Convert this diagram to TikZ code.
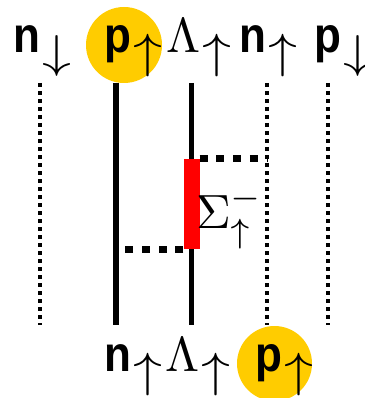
\documentclass[tikz,border=0pt]{standalone}
\usepackage{graphicx}
\usepackage{fontspec}
\usepackage{tikz}
\newfontfamily\nucfont[FakeStretch=0.88]{Liberation Sans}
\definecolor{gold}{RGB}{255,204,0}
\newcommand{\nuc}[1]{{\nucfont\bfseries #1}}
\newcommand{\spinup}{\kern2pt\raisebox{-15pt}{\fontsize{10}{12}\selectfont\scalebox{5.8}[4.8]{$\uparrow$}}}
\newcommand{\spindn}{\kern2pt\raisebox{-15pt}{\fontsize{10}{12}\selectfont\scalebox{5.8}[4.6]{$\downarrow$}}}
\newcommand{\lam}{{\fontsize{10}{12}\selectfont\scalebox{4.9}{$\Lambda$}}}
\tikzstyle{quark}=[draw,line width=5.5pt]
\tikzstyle{spectator}=[draw,line width=4pt,dash pattern=on 4pt off 4pt]
\tikzstyle{exchange}=[draw,line width=7pt,dash pattern=on 8pt off 8.7pt]
\tikzstyle{blob}=[circle,fill=gold,inner sep=0pt]
\tikzstyle{particle}=[anchor=base west,inner sep=0pt,font=\fontsize{50}{56}\selectfont]

\begin{document}
\begin{tikzpicture}[x=1pt, y=-1pt]

    \useasboundingbox (0,0) rectangle (364,398);

    % highlighted protons
    \node[blob, minimum size=76pt] (ptop) at (124,45) {};
    \node[blob, minimum size=75pt] (pbot) at (274.5,363.5) {};

    % line ends
    \foreach \x/\name in {40/nd, 116/pu, 191.5/lu, 267/nu, 328/pd}
    {
        \coordinate (t\name) at (\x,83);
        \coordinate (b\name) at (\x,325);
    }

    \foreach \name in {nd, nu, pd}
        \path[spectator] (t\name) -- (b\name);
    \foreach \name in {pu, lu}
        \path[quark] (t\name) -- (b\name);

    % Sigma in the middle
    \node[fill=red, minimum width=16pt, minimum height=90pt, inner sep=0pt] (sig) at (191.5,204) {};
    \path[exchange] (sig.north east) -- (sig.north east -| tnu);
    \path[exchange] (sig.south west) -- (sig.south west -| tpu);
    \node[anchor=base west, inner sep=0pt] (siglabel) at (196,228) {\scalebox{4.8}{$\Sigma^-_\uparrow$}};

    % initial state
    \node[particle] (n1) at (13,53) {\nuc{n}\spindn};
    \node[particle] (p1) at (104,53) {\nuc{p}\spinup};
    \node[particle] (l1) at (166,53) {\lam\spinup};
    \node[particle] (n2) at (239,53) {\nuc{n}\spinup};
    \node[particle] (p2) at (314,53) {\nuc{p}\spindn};

    % final state
    \node[particle] (n3) at (104,371) {\nuc{n}\spinup};
    \node[particle] (l2) at (165,371) {\lam\spinup};
    \node[particle] (p3) at (255,371) {\nuc{p}\spinup};

\end{tikzpicture}
\end{document}
